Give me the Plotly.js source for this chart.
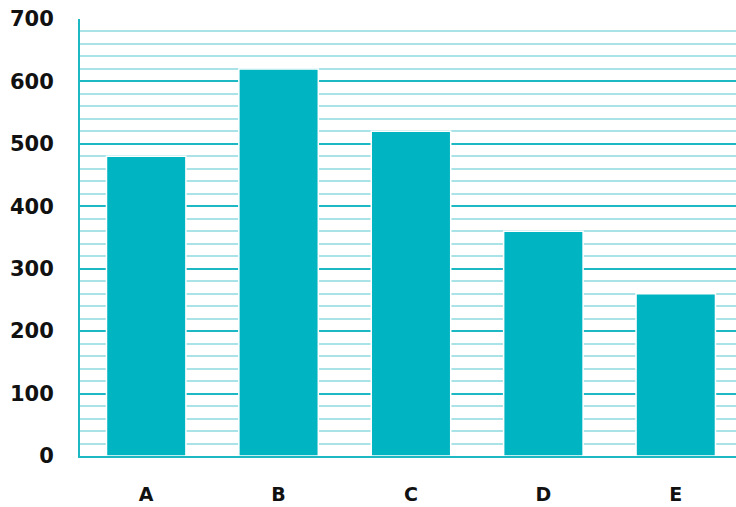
<!DOCTYPE html>
<html>
<head>
<meta charset="utf-8">
<script src="https://cdn.plot.ly/plotly-3.0.1.min.js"></script>
<style>html,body{margin:0;padding:0;background:#fff;}#chart{width:736px;height:507px;}</style>
</head>
<body>
<div id="chart"></div>
<script>
const categories = ["A", "B", "C", "D", "E"];
const values = [480, 620, 520, 360, 260];
const yTickValues = [0, 100, 200, 300, 400, 500, 600, 700];

const trace = {
  type: "bar",
  x: categories,
  y: values,
  width: 0.6,
  marker: { color: "#00B5C1", line: { color: "#ffffff", width: 1.5 } },
  hoverinfo: "skip"
};

const layout = {
  width: 736,
  height: 507,
  margin: { l: 79.5, r: 0, t: 19, b: 51 },
  paper_bgcolor: "#ffffff",
  plot_bgcolor: "#ffffff",
  showlegend: false,
  bargap: 0.4,
  xaxis: {
    type: "category",
    range: [-0.5, 4.455],
    showgrid: false,
    showline: true,
    linecolor: "#1CB8C4",
    linewidth: 2,
    ticks: "",
    ticklabelstandoff: 20,
    tickfont: { family: "DejaVu Sans, sans-serif", size: 19, color: "#111111", weight: "bold" },
    zeroline: false
  },
  yaxis: {
    range: [0, 700],
    tickvals: yTickValues,
    showgrid: true,
    gridcolor: "#1CB8C4",
    gridwidth: 2,
    minor: { dtick: 20, showgrid: true, gridcolor: "#A9E3E8", gridwidth: 2, ticks: "" },
    showline: true,
    linecolor: "#1CB8C4",
    linewidth: 2,
    ticks: "",
    zeroline: false,
    ticklabelstandoff: 20,
    tickfont: { family: "DejaVu Sans, sans-serif", size: 21, color: "#111111", weight: "bold" }
  }
};

Plotly.newPlot("chart", [trace], layout, { displayModeBar: false, staticPlot: true });
</script>
</body>
</html>
